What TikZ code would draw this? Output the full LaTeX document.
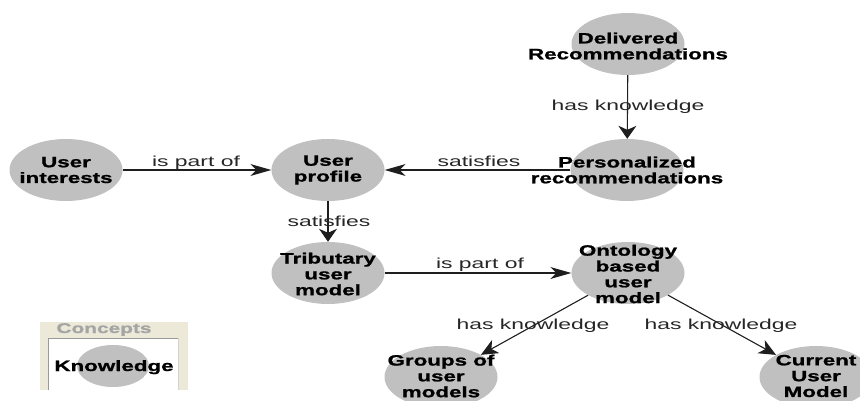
\documentclass[tikz,border=0pt]{standalone}
\usepackage{fontspec}
\setmainfont{Liberation Sans}
\newfontfamily\nodefont[FakeStretch=1.49,BoldFeatures={FakeBold=1.2}]{Liberation Sans}
\newfontfamily\labfont[FakeStretch=1.58]{Liberation Sans}
\usetikzlibrary{shapes.geometric,arrows.meta}
\definecolor{nodegray}{RGB}{192,192,192}
\definecolor{edgecol}{RGB}{30,30,30}
\definecolor{legbg}{RGB}{236,233,216}
\definecolor{leggray}{RGB}{165,165,165}
\begin{document}
\begin{tikzpicture}[x=1pt,y=-1pt,
  concept/.style={ellipse, fill=nodegray, minimum width=113pt, minimum height=62pt, inner sep=0pt},
  ctext/.style={font=\nodefont\bfseries\fontsize{15}{15.8}\selectfont, align=center, inner sep=0pt},
  rel/.style={draw=edgecol, line width=1.1pt},
  elab/.style={font=\labfont\fontsize{14.5}{15}\selectfont, anchor=base, inner sep=0pt, text=black!85},
  harr/.style={-{Stealth[length=21pt,width=12pt,inset=6pt]}},
  varr/.style={-{Stealth[length=13pt,width=18pt,inset=4pt]}},
  darr/.style={-{Stealth[length=17pt,width=15pt,inset=5pt]}},
]
\useasboundingbox (0,0) rectangle (860,401);

% concept ellipses
\node[concept] (deliv) at (628,44) {};
\node[concept] (pers) at (627,170) {};
\node[concept] (interests) at (66,170) {};
\node[concept] (profile) at (328,170) {};
\node[concept] (trib) at (328,273) {};
\node[concept] (onto) at (628,273) {};
\node[concept] (groups) at (441,377) {};
\node[concept] (current) at (816,377) {};

% relations
\draw[rel,varr] (deliv) -- (pers);
\draw[rel,harr] (interests) -- (profile);
\draw[rel,harr] (pers) -- (profile);
\draw[rel,varr] (profile) -- (trib);
\draw[rel,harr] (trib) -- (onto);
\draw[rel,darr] (onto) -- (groups);
\draw[rel,darr] (onto) -- (current);

% relation labels
\node[elab] (l1) at (628,111) {has knowledge};
\node[elab] (l2) at (196,167) {is part of};
\node[elab] (l3) at (479,167) {satisfies};
\node[elab] (l4) at (329,226) {satisfies};
\node[elab] (l5) at (480,268) {is part of};
\node[elab] (l6) at (533,329) {has knowledge};
\node[elab] (l7) at (721,329) {has knowledge};

% concept texts
\node[ctext] (delivt) at (628,46) {Delivered\\Recommendations};
\node[ctext] (perst) at (627,170) {Personalized\\recommendations};
\node[ctext] (interestst) at (66,170) {User\\interests};
\node[ctext] (profilet) at (328,170) {User\\profile};
\node[ctext] (tribt) at (328,274) {Tributary\\user\\model};
\node[ctext] (ontot) at (628,274) {Ontology\\based\\user\\model};
\node[ctext] (groupst) at (441,376) {Groups of\\user\\models};
\node[ctext] (currentt) at (816,376) {Current\\User\\Model};

% legend
\fill[legbg] (40,322) rectangle (188,390);
\fill[white] (48,338) rectangle (178,390);
\draw[gray!80, line width=1pt] (48,390) -- (48,338) -- (178,338);
\draw[gray!35, line width=1pt] (178,338) -- (178,390);
\node[font=\nodefont\bfseries\fontsize{14}{14}\selectfont, text=leggray, anchor=base, inner sep=0pt] (legh) at (104,333) {Concepts};
\node[ellipse, fill=nodegray, minimum width=72pt, minimum height=42pt, inner sep=0pt] (legc) at (113,366) {};
\node[ctext, anchor=base] (legt) at (114,371) {Knowledge};
\end{tikzpicture}
\end{document}
